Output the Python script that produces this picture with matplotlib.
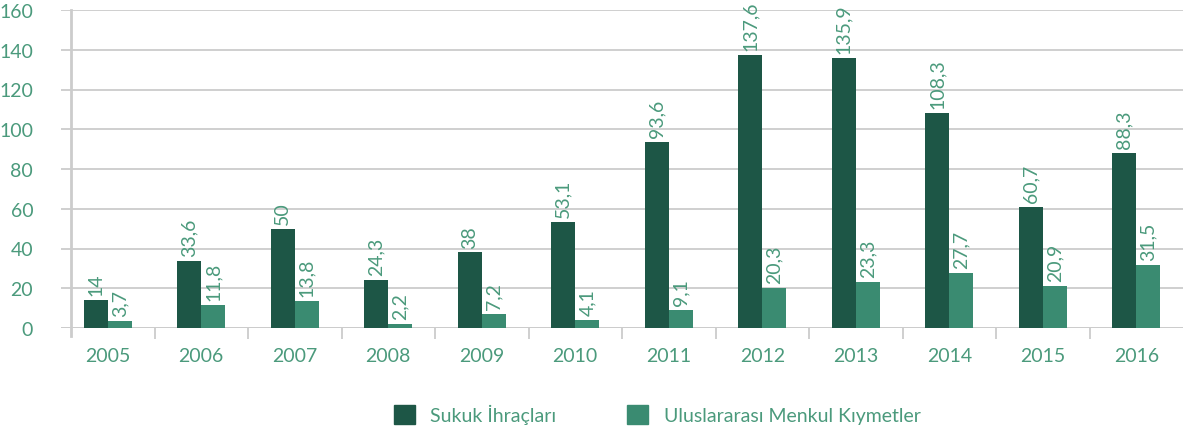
import numpy as np
import matplotlib.pyplot as plt
from matplotlib.patches import Patch

years = ["2005", "2006", "2007", "2008", "2009", "2010",
         "2011", "2012", "2013", "2014", "2015", "2016"]
sukuk = [14, 33.6, 50, 24.3, 38, 53.1, 93.6, 137.6, 135.9, 108.3, 60.7, 88.3]
menkul = [3.7, 11.8, 13.8, 2.2, 7.2, 4.1, 9.1, 20.3, 23.3, 27.7, 20.9, 31.5]
series_names = ["Sukuk İhraçları", "Uluslararası Menkul Kıymetler"]

DARK = "#1d5646"
LIGHT = "#3a8b71"
TEXT = "#4b9a7c"
GRID = "#cccccc"

plt.rcParams["font.family"] = ["Lato", "DejaVu Sans"]

fig = plt.figure(figsize=(11.84, 4.35), dpi=100)
ax = fig.add_axes([61 / 1184, 1 - 329 / 435, 1122 / 1184, 318 / 435])

x = np.arange(len(years))
w = 0.257
ax.bar(x - w / 2, sukuk, w, color=DARK, zorder=3)
ax.bar(x + w / 2, menkul, w, color=LIGHT, zorder=3)


def fmt(v):
    return f"{v:g}".replace(".", ",")


for i in range(len(years)):
    ax.text(x[i] - w / 2, sukuk[i] + 2.5, fmt(sukuk[i]), rotation=90,
            ha="center", va="bottom", color=TEXT, fontsize=14)
    ax.text(x[i] + w / 2, menkul[i] + 2.5, fmt(menkul[i]), rotation=90,
            ha="center", va="bottom", color=TEXT, fontsize=14)

ax.set_xlim(-0.5, len(years) - 0.5)
ax.set_ylim(0, 160)
ax.set_yticks(range(0, 161, 20))
ax.yaxis.grid(True, color=GRID, linewidth=1.3, zorder=0)
for s in ax.spines.values():
    s.set_visible(False)
ax.axhline(0, color=GRID, linewidth=1.3, zorder=2)
ax.axvline(-0.5 + 10 / 93.5, color=GRID, linewidth=2, ymin=-0.025, ymax=1.0,
           clip_on=False, zorder=2)

ax.set_xticks(x)
ax.set_xticklabels(years)
ax.set_xticks(np.arange(0.5, len(years) - 1, 1), minor=True)
ax.tick_params(axis="x", which="major", length=0, pad=14, labelsize=14,
               labelcolor=TEXT)
ax.tick_params(axis="x", which="minor", length=8, color=GRID, width=1.3)
ax.tick_params(axis="y", length=0, pad=20, labelsize=14, labelcolor=TEXT)

handles = [Patch(color=DARK), Patch(color=LIGHT)]
fig.legend(handles, series_names, loc="center", bbox_to_anchor=(657 / 1184, 1 - 415 / 435),
           ncol=2, frameon=False, fontsize=14, labelcolor=TEXT,
           handlelength=1.1, handleheight=1.1, columnspacing=3.6, handletextpad=0.8)

fig.savefig("out.png", dpi=100)
